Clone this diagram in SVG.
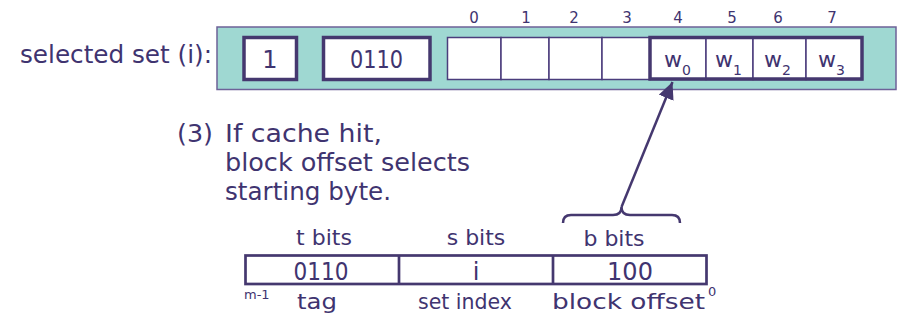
<svg xmlns="http://www.w3.org/2000/svg" width="901" height="324" viewBox="0 0 901 324">
<defs>
<style>
text{font-family:"DejaVu Sans","Open Sans",sans-serif;fill:#3f3470}
.big{font-size:24px}
.mid{font-size:22px}
.idx{font-size:15px;text-anchor:middle}
.val{font-size:24px;text-anchor:middle}
.thick{fill:#fff;stroke:#45386f;stroke-width:3.5}
.cell{fill:#fff;stroke:#4b3d7c;stroke-width:1.5}
.edge{fill:none;stroke:#45386f;stroke-width:2.5}
</style>
<marker id="ah" markerUnits="userSpaceOnUse" markerWidth="18" markerHeight="16" refX="17" refY="8" orient="auto">
<path d="M0,0 L17,8 L0,16 z" fill="#45386f"/>
</marker>
</defs>
<rect width="901" height="324" fill="#fff"/>

<g id="label-selected">
<text class="big" x="20" y="63" textLength="192" lengthAdjust="spacingAndGlyphs">selected set (i):</text>
</g>

<g id="cache-line">
<rect x="217" y="27" width="679" height="62.5" fill="#9fd8d2" stroke="#6e6298" stroke-width="1.5"/>
<rect class="thick" x="244" y="37.5" width="52.5" height="42"/>
<text class="val" x="270" y="68">1</text>
<rect class="thick" x="323.5" y="37.5" width="106.5" height="42"/>
<text class="val" x="376.5" y="68" textLength="53" lengthAdjust="spacingAndGlyphs">0110</text>
<rect class="cell" x="447.5" y="37.5" width="53.5" height="42"/>
<rect class="cell" x="501" y="37.5" width="48" height="42"/>
<rect class="cell" x="549" y="37.5" width="53" height="42"/>
<rect class="cell" x="602" y="37.5" width="48" height="42"/>
<rect class="cell" x="650" y="37.5" width="56" height="42"/>
<rect class="cell" x="706" y="37.5" width="47" height="42"/>
<rect class="cell" x="753" y="37.5" width="53" height="42"/>
<rect class="cell" x="806" y="37.5" width="56" height="42"/>
<rect x="650" y="37.5" width="212" height="41.5" fill="none" stroke="#45386f" stroke-width="3.5"/>
<text class="mid" x="664" y="67">w<tspan font-size="14" dy="8">0</tspan></text>
<text class="mid" x="715" y="67">w<tspan font-size="14" dy="8">1</tspan></text>
<text class="mid" x="764" y="67">w<tspan font-size="14" dy="8">2</tspan></text>
<text class="mid" x="818" y="67">w<tspan font-size="14" dy="8">3</tspan></text>
</g>

<g id="indices">
<text class="idx" x="474" y="23">0</text>
<text class="idx" x="526" y="23">1</text>
<text class="idx" x="574" y="23">2</text>
<text class="idx" x="627" y="23">3</text>
<text class="idx" x="678" y="23">4</text>
<text class="idx" x="732" y="23">5</text>
<text class="idx" x="778" y="23">6</text>
<text class="idx" x="832" y="23">7</text>
</g>

<g id="note">
<text class="big" x="177" y="142" textLength="36" lengthAdjust="spacingAndGlyphs">(3)</text>
<text class="big" x="225" y="142" textLength="157" lengthAdjust="spacingAndGlyphs">If cache hit,</text>
<text class="big" x="225" y="171" textLength="245" lengthAdjust="spacingAndGlyphs">block offset selects</text>
<text class="big" x="225" y="200" textLength="166" lengthAdjust="spacingAndGlyphs">starting byte.</text>
</g>

<g id="address">
<text class="mid" x="324" y="245" text-anchor="middle" font-size="21">t bits</text>
<text class="mid" x="476" y="245" text-anchor="middle" font-size="21">s bits</text>
<text class="mid" x="614" y="246" text-anchor="middle" font-size="21">b bits</text>
<rect x="245.5" y="255.5" width="461" height="28.5" fill="#fff" stroke="#45386f" stroke-width="2.7"/>
<line x1="399" y1="255.5" x2="399" y2="284" stroke="#45386f" stroke-width="2.7"/>
<line x1="553" y1="255.5" x2="553" y2="284" stroke="#45386f" stroke-width="2.7"/>
<text class="val" x="321" y="280" textLength="55" lengthAdjust="spacingAndGlyphs">0110</text>
<text class="val" x="476" y="280">i</text>
<text class="val" x="630" y="280">100</text>
<text x="244" y="299" font-size="13">m-1</text>
<text x="297" y="309" font-size="22" textLength="40" lengthAdjust="spacingAndGlyphs">tag</text>
<text x="418" y="309" font-size="22" textLength="94" lengthAdjust="spacingAndGlyphs">set index</text>
<text x="552" y="309" font-size="22" textLength="153" lengthAdjust="spacingAndGlyphs">block offset</text>
<text x="708" y="296" font-size="13">0</text>
</g>

<g id="connectors">
<path class="edge" d="M563,223 Q563,215 571,215 L613,215 Q621.5,215 621.5,207 Q621.5,215 630,215 L672,215 Q680,215 680,223"/>
<line x1="621.5" y1="207" x2="672.5" y2="82" stroke="#45386f" stroke-width="2.5" marker-end="url(#ah)"/>
</g>
</svg>
